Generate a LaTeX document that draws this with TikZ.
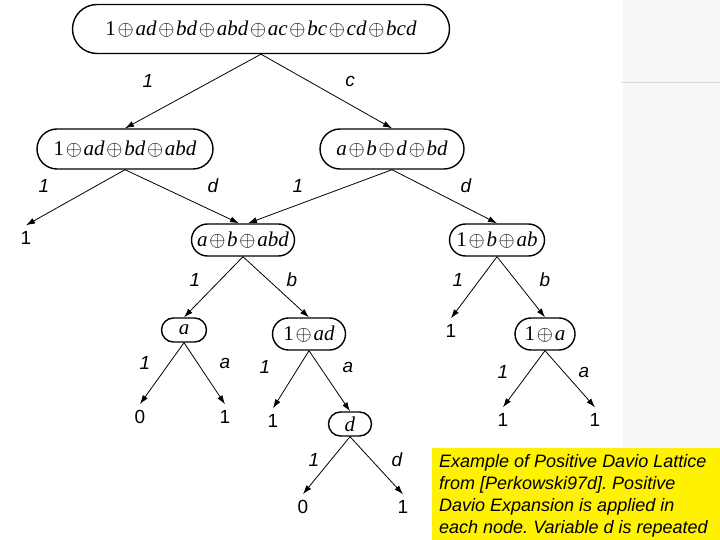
\documentclass[tikz,border=0pt]{standalone}
\usepackage{fontspec}
\setmainfont{Liberation Sans}
\newfontfamily\tms{Liberation Serif}
\usetikzlibrary{
        arrows.meta,
        positioning,
        shapes.misc
    }
\tikzset{>={Latex[length=9pt,width=6pt]}}
\tikzset{
    fn/.style={rounded rectangle,draw,line width=1.4pt,inner xsep=4pt,inner ysep=0pt,
        font=\fontsize{21}{24}\selectfont\tms},
    lab/.style={inner sep=0pt,font=\fontsize{19}{22}\selectfont\itshape},
    leaf/.style={inner xsep=0pt,inner ysep=6pt,font=\fontsize{19}{22}\selectfont},
    br/.style={->,line width=0.8pt}
}
\newcommand{\xo}{\ensuremath{\mkern1.5mu\oplus\mkern1.5mu}}
\newcommand{\vv}[1]{\textit{#1}}
\frenchspacing

\begin{document}
\begin{tikzpicture}[x=1pt,y=-1pt]
        \useasboundingbox (0,0) rectangle (720,540);
        % grey panel on the right
        \fill[gray!6] (623,0) rectangle (720,540);
        \draw[gray!30,line width=1pt] (621,83) -- (720,83);

        % function nodes
        \node[fn,minimum width=385,minimum height=49] (rt) at (261,29) {1\xo\vv{ad}\xo\vv{bd}\xo\vv{abd}\xo\vv{ac}\xo\vv{bc}\xo\vv{cd}\xo\vv{bcd}};
        \node[fn,minimum width=184,minimum height=40] (lft) at (125,149) {1\xo\vv{ad}\xo\vv{bd}\xo\vv{abd}};
        \node[fn,minimum width=152,minimum height=40] (rgt) at (392,149) {\vv{a}\xo\vv{b}\xo\vv{d}\xo\vv{bd}};
        \node[fn,minimum width=111,minimum height=32] (mid) at (243,240) {\vv{a}\xo\vv{b}\xo\vv{abd}};
        \node[fn,minimum width=103,minimum height=32] (rb) at (497,240) {1\xo\vv{b}\xo\vv{ab}};
        \node[fn,minimum width=53,minimum height=24] (na) at (184,330) {\vv{a}};
        \node[fn,minimum width=81,minimum height=32] (nad) at (309,334) {1\xo\vv{ad}};
        \node[fn,minimum width=51,minimum height=24] (nd) at (350,424) {\vv{d}};
        \node[fn,minimum width=68,minimum height=32] (na1) at (545,334) {1\xo\vv{a}};

        % terminals
        \node[leaf] (t1) at (26,238) {1};
        \node[leaf] (t2) at (451,331) {1};
        \node[leaf] (t3) at (140,417) {0};
        \node[leaf] (t4) at (225,417) {1};
        \node[leaf] (t5) at (273,421) {1};
        \node[leaf] (t6) at (303,507) {0};
        \node[leaf] (t7) at (403,507) {1};
        \node[leaf] (t8) at (503,420) {1};
        \node[leaf] (t9) at (595,420) {1};

        % branches
        \draw[br] (rt.south) -- (lft.north);
        \draw[br] (rt.south) -- (rgt.north);
        \draw[br] (lft.south) -- (t1.north);
        \draw[br] (lft.south) -- ([xshift=-4]mid.north);
        \draw[br] (rgt.south) -- ([xshift=5]mid.north);
        \draw[br] (rgt.south) -- (rb.north);
        \draw[br] (mid.south) -- (na.north);
        \draw[br] (mid.south) -- (nad.north);
        \draw[br] (rb.south) -- (t2.north);
        \draw[br] (rb.south) -- (na1.north);
        \draw[br] (na.south) -- (t3.north);
        \draw[br] (na.south) -- (t4.north);
        \draw[br] (nad.south) -- (t5.north);
        \draw[br] (nad.south) -- (nd.north);
        \draw[br] (nd.south) -- (t6.north);
        \draw[br] (nd.south) -- (t7.north);
        \draw[br] (na1.south) -- (t8.north);
        \draw[br] (na1.south) -- (t9.north);

        % branch labels
        \node[lab] (e1) at (148,81) {1};
        \node[lab] (e2) at (350,81) {c};
        \node[lab] (e3) at (44,186) {1};
        \node[lab] (e4) at (213,186) {d};
        \node[lab] (e5) at (298,186) {1};
        \node[lab] (e6) at (466,186) {d};
        \node[lab] (e7) at (195,280) {1};
        \node[lab] (e8) at (292,280) {b};
        \node[lab] (e9) at (458,280) {1};
        \node[lab] (e10) at (545,280) {b};
        \node[lab] (e11) at (145,363) {1};
        \node[lab] (e12) at (225,363) {a};
        \node[lab] (e13) at (265,367) {1};
        \node[lab] (e14) at (348,367) {a};
        \node[lab] (e15) at (314,460) {1};
        \node[lab] (e16) at (397,460) {d};
        \node[lab] (e17) at (503,372) {1};
        \node[lab] (e18) at (584,372) {a};

        % caption
        \fill[yellow] (432,448) rectangle (720,540);
        \node[anchor=north west,inner sep=0pt,align=left,
              font=\fontsize{18}{22}\selectfont\itshape] (note) at (439,454)
              {Example of Positive Davio Lattice\\from [Perkowski97d]. Positive\\Davio Expansion is applied in\\each node. Variable d is repeated};
    \end{tikzpicture}
\end{document}
